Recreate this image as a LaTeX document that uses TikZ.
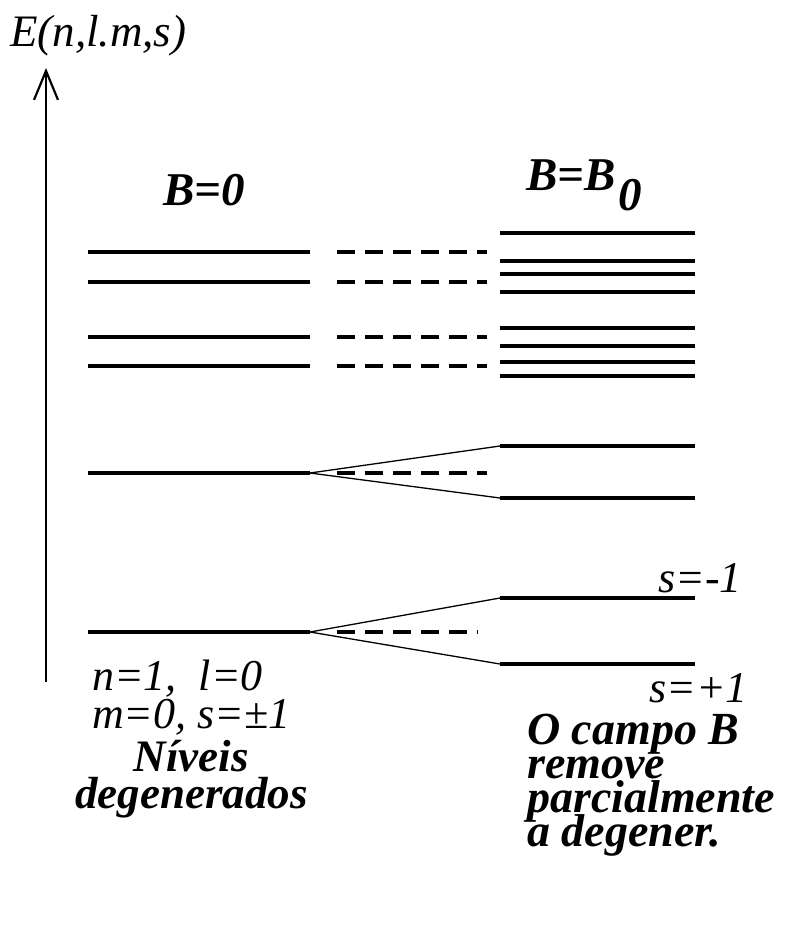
\documentclass[tikz,border=0pt]{standalone}
\usepackage{fontspec}
\setmainfont{Liberation Serif}
\usetikzlibrary{arrows.meta}
\begin{document}
\begin{tikzpicture}[x=1pt,y=-1pt,
  lvl/.style={line width=3.2pt},
  fan/.style={line width=1.3pt},
  dashlvl/.style={line width=3.2pt, dash pattern=on 18pt off 10pt},
  lbl/.style={inner sep=0pt, anchor=base west, font=\fontsize{44}{37}\selectfont\itshape},
  blbl/.style={inner sep=0pt, anchor=base west, font=\fontsize{46}{34}\selectfont\bfseries\itshape}]
\path[use as bounding box, fill=white] (0,0) rectangle (794,930);

% axis
\coordinate (ab) at (46,682);
\coordinate (at) at (46,68);
\draw[line width=2.4pt, -{Straight Barb[length=29pt,width=24pt,line width=2.2pt]}] (ab) -- (at);
\node[lbl, font=\fontsize{45}{37}\selectfont\itshape] (elab) at (10,46) {E(n,l.m,s)};

% titles
\node[blbl, font=\fontsize{47}{34}\selectfont\bfseries\itshape] (b0) at (163,205) {B=0};
\node[blbl, font=\fontsize{47}{34}\selectfont\bfseries\itshape] (bb0) at (526,190) {B=B\kern3pt\raisebox{-20pt}{0}};

% left levels
\foreach \y/\n in {252/a,282/b,337/c,366/d,473/e,632/f}{
  \coordinate (L\n1) at (88,\y);
  \coordinate (L\n2) at (310,\y);
  \draw[lvl] (L\n1) -- (L\n2);
}
% dashed continuations
\foreach \y/\n/\e in {252/a/487,282/b/487,337/c/487,366/d/487,473/e/487,632/f/478}{
  \coordinate (D\n1) at (337,\y);
  \coordinate (D\n2) at (\e,\y);
  \draw[dashlvl] (D\n1) -- (D\n2);
}
% right levels
\foreach \y/\n in {233/a,261/b,274/c,292/d,328/e,346/f,362/g,376/h,446/i,498/j,598/k,664/l}{
  \coordinate (R\n1) at (500,\y);
  \coordinate (R\n2) at (695,\y);
  \draw[lvl] (R\n1) -- (R\n2);
}
% fans
\draw[fan] (Le2) -- (Ri1);
\draw[fan] (Le2) -- (Rj1);
\draw[fan] (Lf2) -- (Rk1);
\draw[fan] (Lf2) -- (Rl1);

% spin labels
\node[lbl, anchor=base east] (sm) at (742,592) {s=-1};
\node[lbl, anchor=base east] (sp) at (748,702) {s=+1};

% quantum numbers
\node[lbl] (q) at (92,690) {\vtop{\baselineskip=38pt\lineskiplimit=-100pt
  \hbox{n=1, \ l=0}\hbox{m=0, s=±1}}};

% captions
\node[blbl, font=\fontsize{45}{34}\selectfont\bfseries\itshape] (c) at (75,771)
  {\vtop{\baselineskip=37pt\lineskiplimit=-100pt
   \halign{\hfil#\hfil\cr Níveis\cr degenerados\cr}}};

\node[blbl] (r) at (527,744) {\vtop{\baselineskip=34pt\lineskiplimit=-100pt
  \hbox{O campo B}\hbox{remove}\hbox{parcialmente}\hbox{a degener.}}};
\end{tikzpicture}
\end{document}
